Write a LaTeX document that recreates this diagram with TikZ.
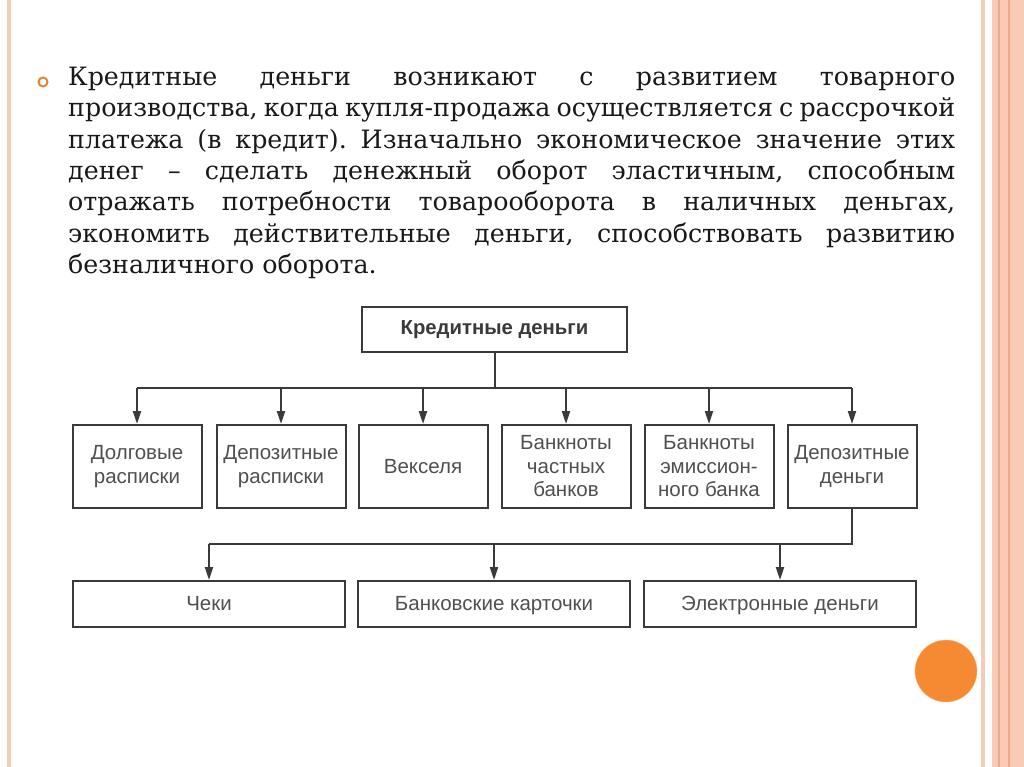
\documentclass[tikz,border=0pt]{standalone}
\usepackage{fontspec}
\setmainfont{DejaVu Serif}
\setsansfont{Liberation Sans}
\usetikzlibrary{arrows.meta}

\definecolor{stripe}{HTML}{F7CBB6}
\definecolor{stripedark}{HTML}{EFAA8A}
\definecolor{dotorange}{HTML}{F68A33}
\definecolor{bulletc}{HTML}{E2823C}
\definecolor{boxline}{HTML}{3A3A3A}
\definecolor{boxtext}{HTML}{505050}

\tikzset{
  kind/.style={draw=boxline, line width=2pt, fill=white, align=center, inner sep=1pt,
    minimum width=129pt, minimum height=83pt, text=boxtext,
    font=\sffamily\fontsize{20.5}{23.5}\selectfont},
  topkind/.style={kind, minimum width=265pt, minimum height=45pt, text=boxline,
    font=\sffamily\bfseries\fontsize{20.3}{22}\selectfont},
  subkind/.style={kind, minimum width=272pt, minimum height=46pt,
    text height=15pt, text depth=3pt,
    font=\sffamily\fontsize{20.5}{22}\selectfont},
  link/.style={draw=boxline, line width=2pt},
  arr/.style={link, -{Triangle[length=13pt,width=8pt]}}
}

\begin{document}
\begin{tikzpicture}[x=1pt, y=-1pt]
		\useasboundingbox (0,0) rectangle (1024,767);

		% slide decoration
		\fill[stripe] (7,0) rectangle (11,767);
		\fill[stripe] (981,0) rectangle (985,767);
		\fill[stripe] (992,0) rectangle (1024,767);
		\fill[stripedark] (998,0) rectangle (1000,767);
		\fill[stripedark] (1008,0) rectangle (1009.5,767);
		\fill[dotorange, draw=dotorange!60] (946,671) circle (31pt);

		% text
		\draw[bulletc, line width=2pt] (43,82) circle (4.5pt);
		\node[anchor=north west, inner sep=0pt, text width=887pt, align=justify,
		text=black!90, font=\frenchspacing\fontsize{25.3}{31.3}\selectfont] (txt) at (68,67) {
			Кредитные деньги возникают с развитием товарного\linebreak
			производства, когда купля-продажа осуществляется с рассрочкой\linebreak
			платежа (в кредит). Изначально экономическое значение этих\linebreak
			денег – сделать денежный оборот эластичным, способным\linebreak
			отражать потребности товарооборота в наличных деньгах,\linebreak
			экономить действительные деньги, способствовать развитию\linebreak
			безналичного оборота.
		};

		% scheme
		\node[topkind] (kred) at (494.5,329.5) {Кредитные деньги};

		\foreach \nm/\x/\txt in {dolg/137/Долговые\\расписки,
			depras/281/Депозитные\\расписки,
			veks/423/Векселя,
			bchast/566/Банкноты\\частных\\банков,
			bemis/709/Банкноты\\эмиссион-\\ного банка,
			depden/852/Депозитные\\деньги}
		\node[kind] (\nm) at (\x,466.5) {\txt};

		\node[subkind] (cheki) at (209,604) {Чеки};
		\node[subkind] (kart) at (494,604) {Банковские карточки};
		\node[subkind] (elektr) at (780,604) {Электронные деньги};

		% connectors
		\coordinate (bus) at (494.5,388);
		\coordinate (subbus) at (852,544);
		\draw[link] (kred) -- (bus);
		\draw[link] (dolg.north |- bus) -- (depden.north |- bus);
		\foreach \nm in {dolg,depras,veks,bchast,bemis,depden}
		\draw[arr] (\nm.north |- bus) -- (\nm.north);

		\draw[link] (depden) -- (subbus) -- (cheki.north |- subbus);
		\foreach \nm in {cheki,kart,elektr}
		\draw[arr] (\nm.north |- subbus) -- (\nm.north);

\end{tikzpicture}
\end{document}
